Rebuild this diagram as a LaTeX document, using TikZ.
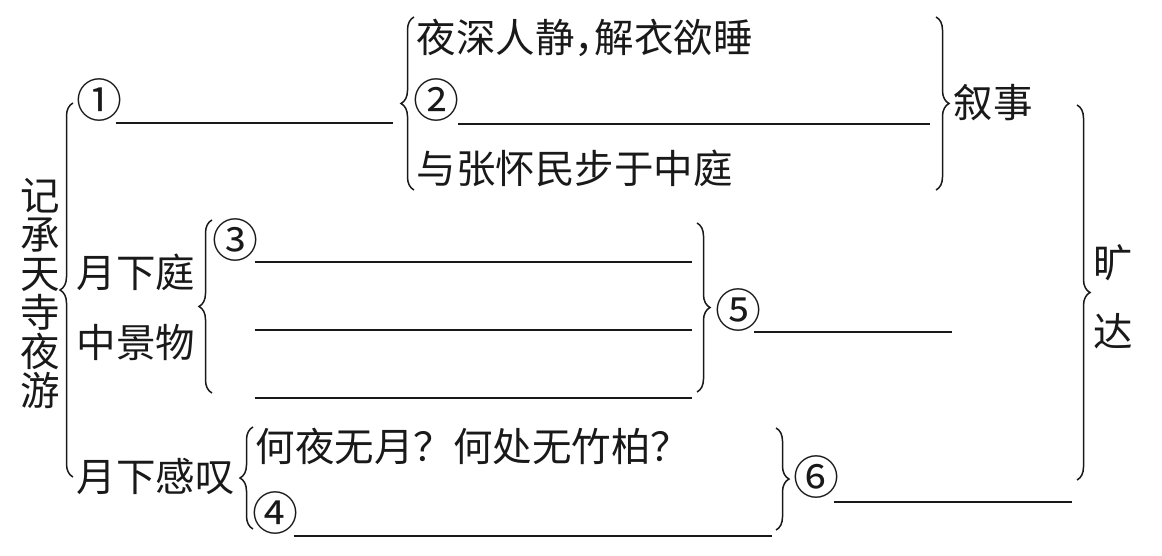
\documentclass[tikz,border=0pt]{standalone}
\usepackage{fontspec}
\newfontfamily\cjk{Noto Sans CJK SC}
\definecolor{InkColor}{RGB}{25,25,25}
\usetikzlibrary{positioning, decorations.pathreplacing, calc}

\begin{document}
\begin{tikzpicture}[x=0.5pt, y=-0.5pt, line width=0.75pt, InkColor,
  txt/.style={font=\cjk\fontsize{19.75}{19.75}\selectfont, inner sep=0pt, anchor=west},
  num/.style={txt, font=\cjk\fontsize{23}{23}\selectfont},
  brc/.style={decorate, decoration={brace, amplitude=6.5pt}},
  blank/.style={line width=0.8pt}]
  \useasboundingbox (0,0) rectangle (1162,556);

  \node[txt, anchor=center, align=center, font=\cjk\fontsize{19.75}{19.5}\selectfont] (title) at (40,293) {记\\承\\天\\寺\\夜\\游};
  \draw[brc] (73,477) -- (73,103);

  % 叙事
  \node[num] (n1) at (76,100) {①};
  \coordinate (b1) at (393,123);
  \draw[blank] (n1.east |- b1) ++(-8,0) -- (b1);
  \draw[brc] (414,190) -- (414,17);
  \node[txt] (t1) at (416,38) {夜深人静\makebox[0.5em][l]{，}解衣欲睡};
  \node[num] (n2) at (413,100) {②};
  \coordinate (b2) at (930,124);
  \draw[blank] (n2.east |- b2) ++(-3,0) -- (b2);
  \node[txt] (t2) at (416,168) {与张怀民步于中庭};
  \draw[brc] (936,17) -- (936,190);
  \node[txt] (xs) at (953,103) {叙事};

  % 月下庭中景物
  \node[txt] (yxt) at (76,272) {月下庭};
  \node[txt] (zjw) at (76,342) {中景物};
  \draw[brc] (212,393) -- (212,220);
  \node[num] (n3) at (212,240) {③};
  \coordinate (b3a) at (692,262);
  \coordinate (b3b) at (692,330);
  \coordinate (b3c) at (692,398);
  \draw[blank] (n3.east |- b3a) ++(-5,0) -- (b3a);
  \draw[blank] (n3.east |- b3b) ++(-5,0) -- (b3b);
  \draw[blank] (n3.east |- b3c) ++(-5,0) -- (b3c);
  \draw[brc] (697,223) -- (697,392);
  \node[num] (n5) at (715,310) {⑤};
  \coordinate (b5) at (952,332);
  \draw[blank] (n5.east |- b5) ++(-9,0) -- (b5);

  % 月下感叹
  \node[txt] (ygt) at (76,476) {月下感叹};
  \draw[brc] (253,529) -- (253,427);
  \node[txt] (t3) at (255,446) {何夜无月？何处无竹柏？};
  \node[num] (n4) at (252,513) {④};
  \coordinate (b4) at (772,536);
  \draw[blank] (n4.east |- b4) ++(-6,0) -- (b4);
  \draw[brc] (776,428) -- (776,530);
  \node[num] (n6) at (793,477) {⑥};
  \coordinate (b6) at (1072,502);
  \draw[blank] (n6.east |- b6) ++(-7,0) -- (b6);

  % 旷达
  \draw[brc] (1077,105) -- (1077,480);
  \node[txt, anchor=center, align=center, font=\cjk\fontsize{19.75}{34.5}\selectfont] (kd) at (1113,297) {旷\\达};
\end{tikzpicture}
\end{document}
